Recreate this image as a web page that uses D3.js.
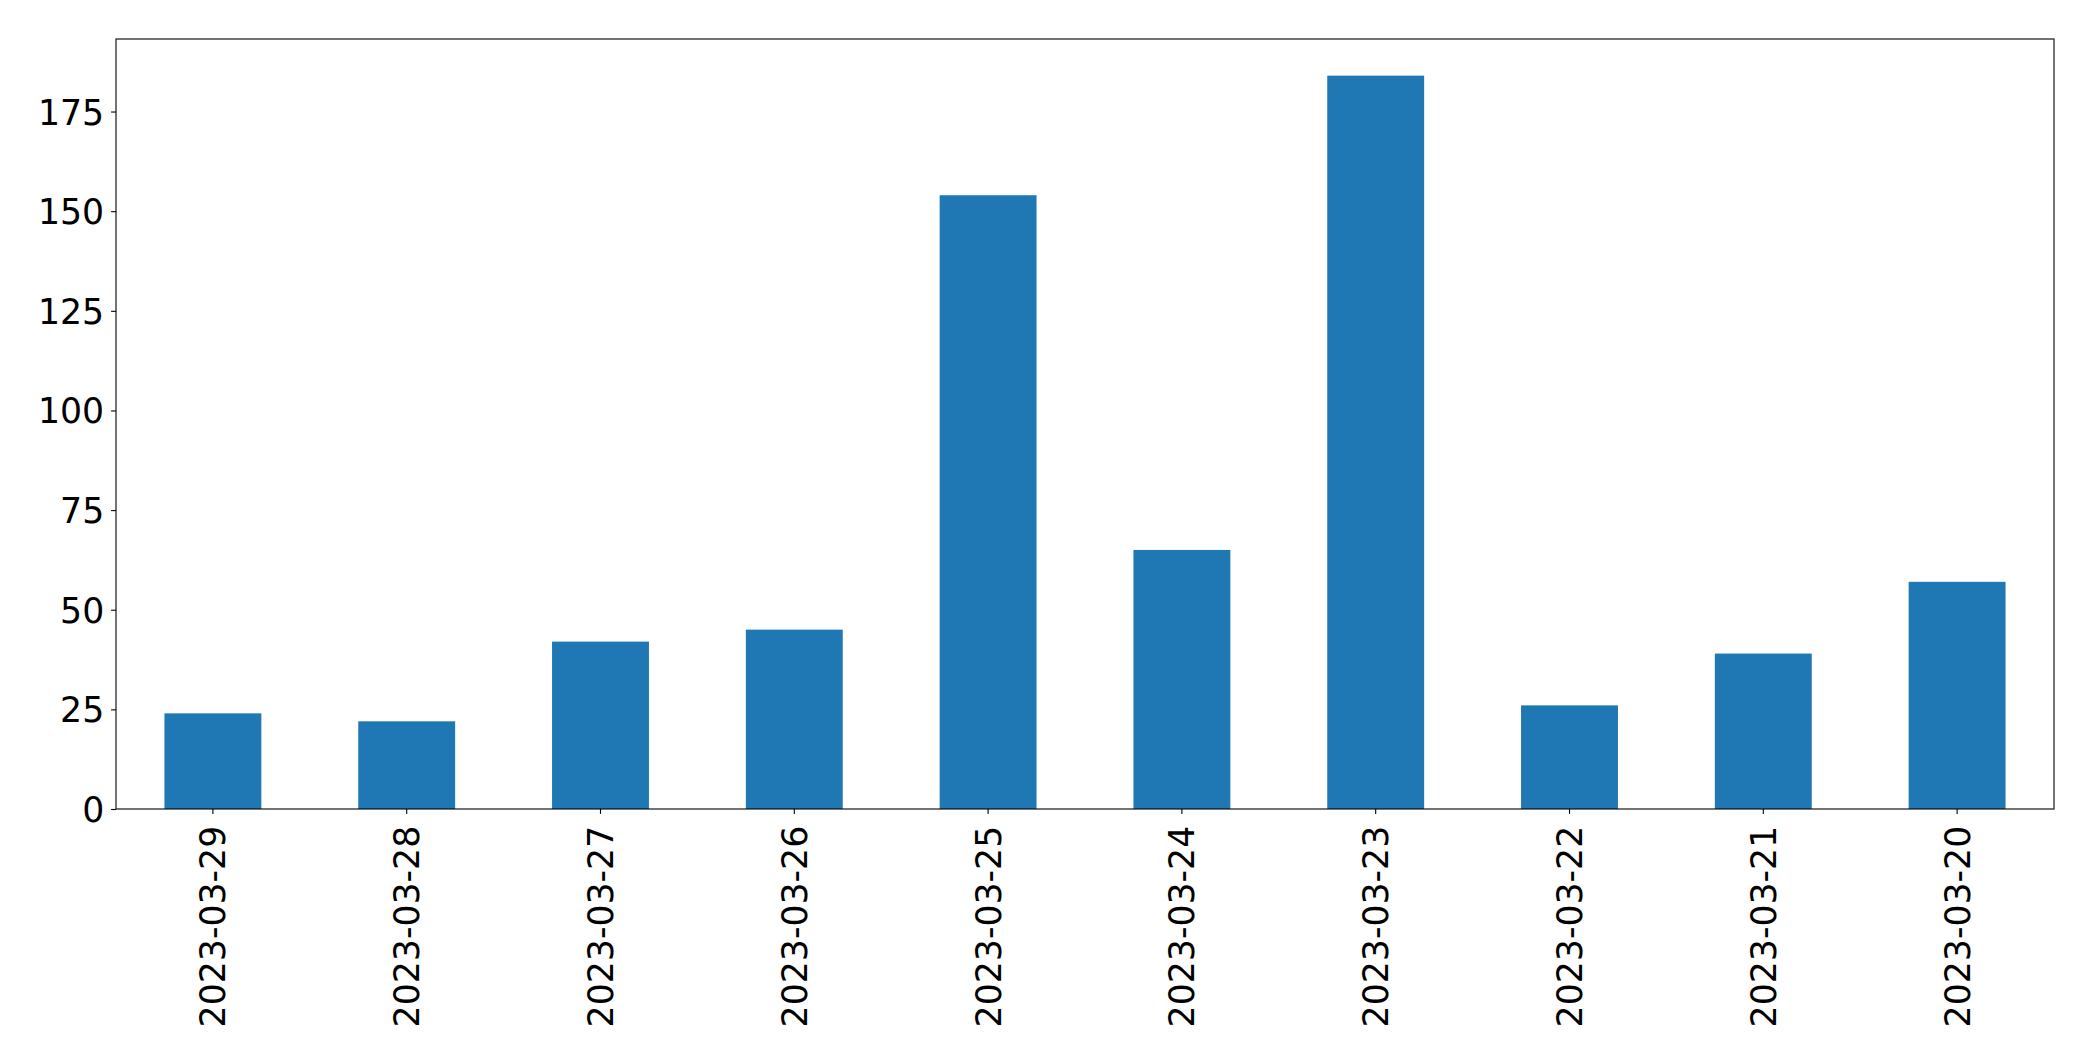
<!DOCTYPE html>
<html>
<head>
<meta charset="utf-8">
<script src="https://cdn.jsdelivr.net/npm/d3@7"></script>
<style>
  html, body { margin: 0; padding: 0; background: #fff; }
  svg { display: block; }
  text { font-family: "DejaVu Sans", sans-serif; fill: #000; }
</style>
</head>
<body>
<svg id="chart" width="2093" height="1061"></svg>
<script>
const categories = ["2023-03-29","2023-03-28","2023-03-27","2023-03-26","2023-03-25","2023-03-24","2023-03-23","2023-03-22","2023-03-21","2023-03-20"];
const values = [24, 22, 42, 45, 154, 65, 184, 26, 39, 57];
const yTicks = [0, 25, 50, 75, 100, 125, 150, 175];

const W = 2093, H = 1061;
const margin = { left: 116, right: 39, top: 39, bottom: 252 };
const plotW = W - margin.left - margin.right;
const plotH = H - margin.top - margin.bottom;
const fontSize = 34.7;
const tickLen = 4.9, tickPad = 4.9;

const svg = d3.select("#chart");
const g = svg.append("g").attr("transform", `translate(${margin.left},${margin.top})`);

const x = d3.scaleBand().domain(categories).range([0, plotW]).paddingInner(0.5).paddingOuter(0.25);
const y = d3.scaleLinear().domain([0, d3.max(values) * 1.05]).range([plotH, 0]);

g.selectAll("rect.bar").data(categories).enter().append("rect")
  .attr("class", "bar")
  .attr("x", d => x(d))
  .attr("width", x.bandwidth())
  .attr("y", (d, i) => y(values[i]))
  .attr("height", (d, i) => y(0) - y(values[i]))
  .attr("fill", "#1f77b4");

// y axis
const yAxis = g.append("g").call(d3.axisLeft(y).tickValues(yTicks).tickSize(tickLen).tickPadding(tickPad).tickFormat(d3.format("d")));
yAxis.select(".domain").remove();
yAxis.selectAll(".tick line").attr("stroke", "#000").attr("stroke-width", 1.1);
yAxis.selectAll(".tick text").attr("font-size", fontSize).attr("font-family", "DejaVu Sans").attr("dy", "0.36em").attr("x", -(tickLen + tickPad + 2));

// x axis
const xAxis = g.append("g").attr("transform", `translate(0,${plotH})`)
  .call(d3.axisBottom(x).tickSize(tickLen).tickPadding(tickPad));
xAxis.select(".domain").remove();
xAxis.selectAll(".tick line").attr("stroke", "#000").attr("stroke-width", 1.1);
xAxis.selectAll(".tick text")
  .attr("font-size", fontSize)
  .attr("font-family", "DejaVu Sans")
  .attr("text-anchor", "end")
  .attr("transform", "rotate(-90)")
  .attr("x", -(tickLen + tickPad + 7))
  .attr("y", 0)
  .attr("dy", "0.36em");

// frame
g.append("rect").attr("x", 0).attr("y", 0).attr("width", plotW).attr("height", plotH)
  .attr("fill", "none").attr("stroke", "#000").attr("stroke-width", 1.1);
</script>
</body>
</html>
